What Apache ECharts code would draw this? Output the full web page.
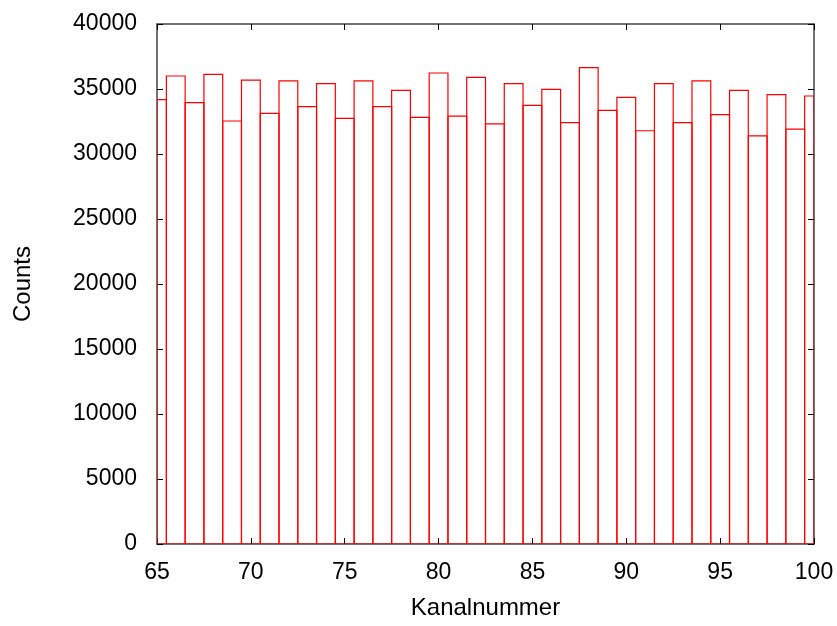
<!DOCTYPE html>
<html><head><meta charset="utf-8">
<script src="https://cdn.jsdelivr.net/npm/echarts@6/dist/echarts.min.js"></script>
<style>html,body{margin:0;padding:0;background:#fff}#c{width:837px;height:626px}</style>
</head><body><div id="c"></div>
<script>
const channels = [65,66,67,68,69,70,71,72,73,74,75,76,77,78,79,80,81,82,83,84,85,86,87,88,89,90,91,92,93,94,95,96,97,98,99,100];
const counts = [34180,36000,33950,36130,32540,35690,33130,35620,33640,35410,32740,35620,33640,34900,32820,36230,32920,35900,32310,35410,33740,34970,32410,36640,33360,34360,31790,35410,32410,35620,33030,34900,31390,34560,31920,34460];
const xTicks = {min:65, max:100, interval:5};
const yTicks = {min:0, max:40000, interval:5000};
const xTitle = 'Kanalnummer';
const yTitle = 'Counts';

const font = 'Liberation Sans, Arial, sans-serif';
const axisLine = {show:true, onZero:false, lineStyle:{color:'#444', width:1.5}};
const tick = {inside:true, length:6, lineStyle:{color:'#000'}};
const chart = echarts.init(document.getElementById('c'), null, {renderer:'canvas'});
chart.setOption({
  animation:false,
  grid:{left:157, right:23, top:24, bottom:82, containLabel:false},
  xAxis:[{
    type:'value', min:xTicks.min, max:xTicks.max, interval:xTicks.interval,
    name:xTitle, nameLocation:'middle', nameGap:52,
    nameTextStyle:{color:'#000', fontSize:24, fontFamily:font},
    axisLine:axisLine, axisTick:tick,
    axisLabel:{color:'#000', fontSize:23, fontFamily:font, margin:17, formatter:v=>String(v)},
    splitLine:{show:false}
  },{
    type:'value', position:'top', min:xTicks.min, max:xTicks.max, interval:xTicks.interval,
    axisLine:axisLine, axisTick:tick,
    axisLabel:{show:false}, splitLine:{show:false}
  }],
  yAxis:[{
    type:'value', min:yTicks.min, max:yTicks.max, interval:yTicks.interval,
    name:yTitle, nameLocation:'middle', nameGap:122, nameRotate:90,
    nameTextStyle:{color:'#000', fontSize:24, fontFamily:font},
    axisLine:axisLine, axisTick:tick,
    axisLabel:{color:'#000', fontSize:23, fontFamily:font, margin:20, formatter:v=>String(v)},
    splitLine:{show:false}
  },{
    type:'value', position:'right', min:yTicks.min, max:yTicks.max, interval:yTicks.interval,
    axisLine:axisLine, axisTick:tick,
    axisLabel:{show:false}, splitLine:{show:false}
  }],
  series:[{
    type:'custom',
    clip:true,
    data: channels.map((c,i)=>[c, counts[i]]),
    renderItem:function(params, api){
      const x = api.value(0), v = api.value(1);
      const p0 = api.coord([x-0.5, v]);
      const p1 = api.coord([x+0.5, 0]);
      const cs = params.coordSys;
      const shape = echarts.graphic.clipRectByRect({
        x:p0[0], y:p0[1], width:p1[0]-p0[0], height:p1[1]-p0[1]
      }, {x:cs.x, y:cs.y, width:cs.width, height:cs.height});
      if(!shape) return;
      return {type:'rect', shape:shape, style:{fill:'none', stroke:'#ff0000', lineWidth:1.2}};
    }
  }]
});
</script></body></html>
